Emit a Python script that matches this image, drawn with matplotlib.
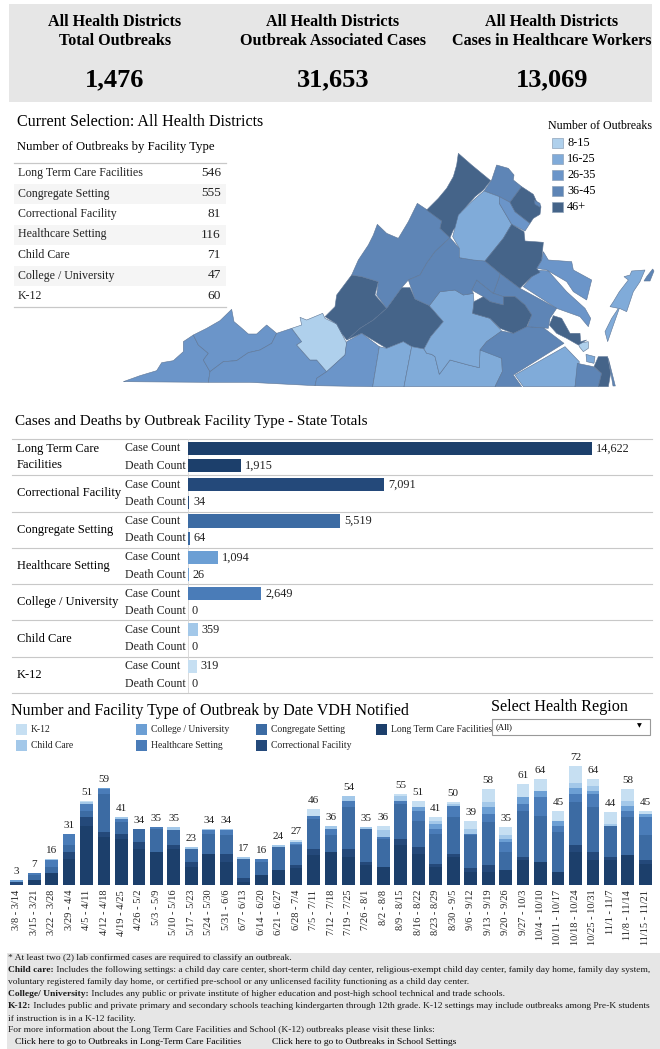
import matplotlib
matplotlib.use("Agg")
import matplotlib.pyplot as plt
from matplotlib.colors import BoundaryNorm, ListedColormap
from matplotlib.patches import Polygon, Rectangle
import numpy as np

plt.rcParams['font.family'] = ['Liberation Serif', 'DejaVu Serif']

W, H = 660, 1049

# --- data ---
kpi_titles = ["All Health Districts\nTotal Outbreaks",
              "All Health Districts\nOutbreak Associated Cases",
              "All Health Districts\nCases in Healthcare Workers"]
kpi_values = ["1,476", "31,653", "13,069"]

table_names = ["Long Term Care Facilities", "Congregate Setting", "Correctional Facility",
               "Healthcare Setting", "Child Care", "College / University", "K-12"]
table_counts = [546, 555, 81, 116, 71, 47, 60]

facility_rows = ["Long Term Care\nFacilities", "Correctional Facility", "Congregate Setting",
                 "Healthcare Setting", "College / University", "Child Care", "K-12"]
case_counts = [14622, 7091, 5519, 1094, 2649, 359, 319]
death_counts = [1915, 34, 64, 26, 0, 0, 0]
row_colours = ['#1c3f6b', '#24497a', '#3c6ba3', '#6c9fd4', '#4a7cb8', '#a3c8e9', '#c6dff2']

weeks = ["3/8 - 3/14", "3/15 - 3/21", "3/22 - 3/28", "3/29 - 4/4", "4/5 - 4/11", "4/12 - 4/18",
         "4/19 - 4/25", "4/26 - 5/2", "5/3 - 5/9", "5/10 - 5/16", "5/17 - 5/23", "5/24 - 5/30",
         "5/31 - 6/6", "6/7 - 6/13", "6/14 - 6/20", "6/21 - 6/27", "6/28 - 7/4", "7/5 - 7/11",
         "7/12 - 7/18", "7/19 - 7/25", "7/26 - 8/1", "8/2 - 8/8", "8/9 - 8/15", "8/16 - 8/22",
         "8/23 - 8/29", "8/30 - 9/5", "9/6 - 9/12", "9/13 - 9/19", "9/20 - 9/26", "9/27 - 10/3",
         "10/4 - 10/10", "10/11 - 10/17", "10/18 - 10/24", "10/25 - 10/31", "11/1 - 11/7",
         "11/8 - 11/14", "11/15 - 11/21"]
ltc = [0, 3, 7, 16, 36, 29, 28, 22, 20, 22, 11, 19, 14, 2, 6, 9, 10, 18, 20, 17, 12, 11, 24, 19,
       11, 17, 8, 8, 9, 15, 14, 8, 20, 15, 15, 18, 13]
correctional = [2, 0, 0, 4, 5, 3, 3, 4, 0, 2, 3, 0, 5, 2, 0, 0, 2, 4, 0, 5, 2, 0, 4, 4,
                2, 2, 2, 4, 0, 2, 0, 0, 4, 5, 2, 0, 2]
congregate = [0, 3, 4, 4, 4, 23, 7, 8, 14, 9, 8, 12, 11, 12, 8, 14, 12, 18, 10, 25, 20, 17, 21, 16,
              18, 22, 20, 26, 11, 28, 28, 24, 26, 27, 19, 23, 15]
healthcare = [0, 1, 4, 7, 4, 3, 2, 0, 1, 0, 0, 2, 3, 0, 2, 0, 1, 2, 4, 4, 0, 1, 2, 6,
              3, 7, 1, 5, 6, 4, 11, 4, 5, 8, 0, 4, 11]
college = [1, 0, 0, 0, 0, 1, 0, 0, 0, 0, 0, 0, 0, 0, 0, 0, 1, 0, 0, 0, 0, 0, 0, 2,
           3, 0, 0, 4, 2, 4, 4, 3, 4, 2, 0, 3, 2]
child = [0, 0, 1, 0, 1, 0, 1, 0, 0, 2, 1, 1, 1, 1, 0, 1, 0, 0, 2, 3, 1, 4, 3, 0,
         2, 1, 3, 3, 2, 0, 0, 0, 3, 3, 1, 3, 0]
k12 = [0, 0, 0, 0, 1, 0, 0, 0, 0, 0, 0, 0, 0, 0, 0, 0, 1, 4, 0, 0, 0, 3, 1, 4,
       2, 1, 5, 8, 5, 8, 7, 6, 10, 4, 7, 7, 2]
stack_names = ["Long Term Care Facilities", "Correctional Facility", "Congregate Setting",
               "Healthcare Setting", "College / University", "Child Care", "K-12"]
stack_colours = ['#1c3f6b', '#24497a', '#3c6ba3', '#4a7cb8', '#6c9fd4', '#a3c8e9', '#c6dff2']

class_labels = ["8-15", "16-25", "26-35", "36-45", "46+"]
class_bounds = [8, 16, 26, 36, 46, 200]
class_colours = ['#afd0ec', '#80abd9', '#6b95c9', '#5e85b6', '#456489']

# health district outlines, with an estimated outbreak count
district_counts = {
    'lenowisco': 30, 'cumberland': 30, 'mt_rogers': 30, 'new_river': 12, 'alleghany': 50,
    'central_va': 50, 'west_piedmont': 30, 'pittsylvania': 20, 'southside': 20, 'piedmont': 20,
    'crater': 40, 'w_tidewater': 20, 'chesapeake': 40, 'va_beach': 50, 'sandbridge': 40, 'norfolk': 20,
    'hampton': 12, 'peninsula': 50, 'eastern_shore': 20, 'shore_isle': 40, 'n_neck': 30,
    'three_rivers': 30, 'chickahominy': 40, 'henrico': 40, 'richmond': 50, 'c_shenandoah': 40,
    'blue_ridge': 40, 'lord_fairfax': 50, 'loudoun': 40, 'rappahannock_rapidan': 20,
    'prince_william': 30, 'fairfax': 50, 'arlington': 40, 'rappahannock': 50,
}
district_shapes = {
    'lenowisco': [(-650, 710), (-600, 692), (-550, 677), (-535, 653), (-500, 647), (-470, 620), (-470, 590),
                  (-440, 570), (-425, 600), (-395, 625), (-410, 645), (-390, 680), (-395, 712)],
    'cumberland': [(-440, 570), (-400, 550), (-360, 527), (-325, 493), (-318, 530), (-300, 545), (-275, 567),
                   (-250, 567), (-220, 540), (-190, 565), (-205, 595), (-240, 615), (-275, 623), (-310, 647),
                   (-350, 650), (-390, 680), (-410, 645), (-395, 625), (-425, 600)],
    'mt_rogers': [(-390, 680), (-350, 650), (-310, 647), (-275, 623), (-240, 615), (-205, 595), (-190, 565),
                  (-145, 550), (-115, 590), (-130, 600), (-90, 645), (-70, 645), (-40, 680), (-70, 700),
                  (-75, 722), (-270, 712), (-320, 712), (-395, 712)],
    'new_river': [(-145, 550), (-115, 540), (-120, 517), (-100, 525), (-52, 505), (-45, 520), (-10, 537),
                  (5, 565), (20, 595), (15, 630), (-40, 680), (-70, 645), (-90, 645), (-130, 600), (-115, 590)],
    'alleghany': [(35, 390), (65, 395), (115, 410), (105, 450), (140, 490), (100, 525), (60, 550), (40, 568),
                  (20, 585), (5, 565), (-10, 537), (-45, 515), (-15, 485), (-10, 450)],
    'central_va': [(140, 490), (185, 428), (210, 428), (225, 462), (268, 482), (310, 530), (272, 575),
                   (252, 612), (215, 605), (190, 590), (140, 610), (115, 595), (65, 565), (20, 585),
                   (40, 568), (60, 550), (100, 525)],
    'west_piedmont': [(20, 590), (65, 565), (118, 605), (98, 725), (-75, 722), (-70, 700), (-40, 680), (15, 630)],
    'pittsylvania': [(118, 605), (140, 610), (190, 590), (215, 605), (192, 725), (98, 725)],
    'southside': [(215, 605), (252, 612), (260, 625), (275, 628), (285, 635), (298, 688), (330, 645), (385, 660),
                  (418, 668), (420, 615), (450, 620), (485, 640), (487, 680), (465, 725), (192, 725)],
    'piedmont': [(252, 612), (272, 575), (310, 530), (268, 482), (300, 440), (345, 435), (370, 450), (400, 445),
                 (402, 470), (398, 505), (450, 520), (485, 558), (440, 590), (420, 615), (418, 668), (385, 660),
                 (330, 645), (298, 688), (285, 635), (275, 628), (260, 625)],
    'crater': [(440, 590), (485, 558), (520, 565), (560, 545), (610, 548), (672, 595), (520, 690), (545, 725),
               (465, 725), (487, 680), (485, 640), (420, 615)],
    'w_tidewater': [(525, 690), (675, 605), (718, 650), (705, 725), (550, 725)],
    'chesapeake': [(712, 655), (760, 665), (785, 685), (775, 725), (705, 725)],
    'va_beach': [(775, 635), (803, 635), (812, 685), (805, 725), (775, 725), (785, 685), (762, 665)],
    'sandbridge': [(805, 640), (826, 723), (819, 723)],
    'norfolk': [(738, 628), (765, 635), (762, 655), (740, 650)],
    'hampton': [(715, 595), (745, 590), (745, 610), (730, 620), (718, 605)],
    'peninsula': [(640, 512), (665, 520), (690, 565), (720, 565), (722, 590), (740, 585), (715, 600), (680, 580),
                  (650, 565), (628, 540)],
    'eastern_shore': [(915, 375), (875, 378), (870, 390), (852, 395), (865, 405), (838, 440), (820, 470), (810, 485),
                      (835, 490), (815, 520), (795, 560), (803, 590), (815, 555), (838, 490), (860, 500), (880, 440),
                      (900, 410)],
    'shore_isle': [(938, 372), (942, 378), (930, 408), (912, 408), (920, 395)],
    'n_neck': [(610, 320), (625, 345), (695, 350), (700, 375), (755, 405), (740, 465), (700, 440), (680, 410),
               (620, 375), (590, 370), (605, 345)],
    'three_rivers': [(590, 375), (625, 378), (680, 440), (735, 490), (752, 520), (745, 545), (720, 515), (650, 490),
                     (550, 425), (575, 395)],
    'chickahominy': [(480, 385), (540, 430), (650, 490), (630, 520), (625, 550), (562, 545), (575, 510), (555, 480),
                     (525, 455), (490, 455), (460, 445), (478, 395)],
    'henrico': [(410, 405), (460, 445), (490, 455), (490, 480), (450, 470), (430, 455), (395, 435)],
    'richmond': [(430, 455), (450, 470), (490, 480), (490, 455), (525, 455), (555, 480), (575, 510), (560, 545),
                 (520, 565), (480, 550), (450, 520), (398, 505), (402, 470)],
    'c_shenandoah': [(232, 175), (262, 195), (305, 228), (300, 250), (330, 278), (285, 320), (260, 355), (240, 390),
                     (205, 405), (185, 428), (140, 490), (110, 450), (115, 410), (65, 395), (35, 390), (55, 345),
                     (85, 300), (100, 270), (112, 238), (140, 265), (175, 280), (205, 230)],
    'blue_ridge': [(330, 278), (358, 310), (358, 338), (435, 348), (480, 385), (478, 395), (460, 445), (410, 405),
                   (395, 435), (400, 445), (370, 450), (345, 435), (300, 440), (268, 482), (225, 462), (205, 405),
                   (240, 390), (260, 355), (285, 320)],
    'lord_fairfax': [(355, 25), (395, 60), (452, 107), (430, 135), (405, 155), (365, 200), (355, 235), (340, 255),
                     (330, 278), (300, 250), (305, 228), (260, 195), (295, 160), (320, 130), (340, 95), (350, 60)],
    'loudoun': [(470, 60), (505, 70), (522, 90), (520, 105), (545, 125), (510, 172), (478, 155), (432, 138), (455, 105)],
    'rappahannock_rapidan': [(432, 138), (478, 155), (478, 175), (515, 238), (490, 280), (435, 348), (400, 345),
                             (358, 338), (358, 310), (338, 275), (355, 210), (395, 170)],
    'prince_william': [(478, 155), (510, 172), (525, 200), (570, 235), (555, 258), (515, 238), (478, 175)],
    'fairfax': [(510, 172), (545, 125), (580, 148), (590, 170), (603, 185), (600, 208), (580, 220), (570, 235), (525, 200)],
    'arlington': [(582, 165), (600, 175), (602, 188), (585, 178)],
    'rappahannock': [(515, 238), (552, 260), (555, 288), (610, 292), (605, 345), (590, 370), (600, 382), (575, 395),
                     (540, 430), (480, 385), (435, 348), (490, 280)],
}

notes = [
    [("* At least two (2) lab confirmed cases are required to classify an outbreak.", False)],
    [("Child care:", True), (" Includes the following settings: a child day care center, short-term child day "
      "center, religious-exempt child day center, family day home, family day system,", False)],
    [("voluntary registered family day home, or certified pre-school or any unlicensed facility "
      "functioning as a child day center.", False)],
    [("College/ University:", True), (" Includes any public or private institute of higher education and "
      "post-high school technical and trade schools.", False)],
    [("K-12:", True), (" Includes public and private primary and secondary schools teaching kindergarten "
      "through 12th grade. K-12 settings may include outbreaks among Pre-K students", False)],
    [("if instruction is in a K-12 facility.", False)],
    [("For more information about the Long Term Care Facilities and School (K-12) outbreaks please "
      "visit these links:", False)],
]


def px_axes(fig, x0, y0, x1, y1):
    return fig.add_axes([x0 / W, 1 - y1 / H, (x1 - x0) / W, (y1 - y0) / H])


fig = plt.figure(figsize=(W / 100, H / 100), dpi=100)
page = px_axes(fig, 0, 0, W, H)
page.set_xlim(0, W)
page.set_ylim(H, 0)
page.axis('off')

# kpi band
page.add_patch(Rectangle((9, 4), 643, 98, fc='#e6e6e6', ec='none'))
for cx, title, value in zip((115, 333, 552), kpi_titles, kpi_values):
    page.text(cx, 31.5, title, ha='center', va='center', fontsize=11.6, fontweight='bold', linespacing=1.3)
    page.text(cx, 80, value, ha='center', va='center', fontsize=19, fontweight='bold')

# outbreaks table
page.text(17, 122.5, "Current Selection: All Health Districts", va='center', fontsize=11.6)
page.text(17, 147, "Number of Outbreaks by Facility Type", va='center', fontsize=9.2)
row_y = np.linspace(173, 296, len(table_names))
for i, (name, count, y) in enumerate(zip(table_names, table_counts, row_y)):
    if i % 2 == 1:
        page.add_patch(Rectangle((14, y - 10), 212, 20, fc='#f5f5f5', ec='none'))
    page.text(18, y, name, va='center', fontsize=8.6, color='#222222')
    page.text(221, y, str(count), va='center', ha='right', fontsize=9.6, color='#222222')
page.plot([14, 226], [163, 163], color='#c8c8c8', lw=0.9)
page.plot([14, 226], [307, 307], color='#c8c8c8', lw=0.9)

# map legend
page.text(548, 126, "Number of Outbreaks", va='center', fontsize=8.6)
for label, colour, y in zip(class_labels, class_colours, np.linspace(143, 207, 5)):
    page.add_patch(Rectangle((552, y - 5), 11, 10, fc=colour, ec='#8fa3ba', lw=0.5))
    page.text(567, y, label, va='center', fontsize=8.8)

# map
class_cmap = ListedColormap(class_colours)
class_norm = BoundaryNorm(class_bounds, class_cmap.N)
map_ax = px_axes(fig, 110, 145, W, 395)
map_ax.set_xlim(-690, 960)
map_ax.set_ylim(750, 0)
map_ax.axis('off')
for name, outline in district_shapes.items():
    colour = class_cmap(class_norm(district_counts[name]))
    map_ax.add_patch(Polygon(outline, closed=True, fc=colour, ec='#5d7595', lw=0.4))

# cases and deaths
page.text(15, 422, "Cases and Deaths by Outbreak Facility Type - State Totals", va='center', fontsize=10.9)
bar_ax = px_axes(fig, 188, 439, 655, 693)
bar_ax.set_xlim(0, 16903)
bar_ax.set_ylim(len(facility_rows), 0)
bar_ax.axis('off')
rows = np.arange(len(facility_rows))
bar_ax.barh(rows + 0.26, case_counts, height=0.36, color=row_colours)
bar_ax.barh(rows + 0.74, death_counts, height=0.36, color=row_colours)
bar_ax.axvline(0, color='#d5d5d5', lw=0.6, zorder=0)
for i, (cases, deaths) in enumerate(zip(case_counts, death_counts)):
    bar_ax.annotate(f"{cases:,}", (cases, i + 0.26), xytext=(4, 0), textcoords='offset pixels',
                    va='center', fontsize=8.8, color='#222222')
    bar_ax.annotate(f"{deaths:,}", (deaths, i + 0.74), xytext=(4, 0), textcoords='offset pixels',
                    va='center', fontsize=8.8, color='#222222')
row_step = (693 - 439) / len(facility_rows)
for i, name in enumerate(facility_rows):
    top = 439 + i * row_step
    page.plot([12, 652], [top, top], color='#c8c8c8', lw=0.8)
    page.text(17, top + row_step / 2, name, va='center', fontsize=9.0, linespacing=1.45)
    page.text(125, top + row_step * 0.26, "Case Count", va='center', fontsize=8.6, color='#222222')
    page.text(125, top + row_step * 0.74, "Death Count", va='center', fontsize=8.6, color='#222222')
page.plot([12, 652], [693, 693], color='#c8c8c8', lw=0.8)

# stacked outbreaks by week
page.text(11, 711, "Number and Facility Type of Outbreak by Date VDH Notified", va='center', fontsize=11.5)
page.text(491, 707, "Select Health Region", va='center', fontsize=11.6)
page.add_patch(Rectangle((492, 719), 158, 16, fc='white', ec='#999999', lw=0.8))
page.text(496, 727, "(All)", va='center', fontsize=6.2)
page.text(639, 726, "\u25bc", va='center', ha='center', fontsize=4.5, family='DejaVu Sans')

legend_layout = [("K-12", 16, 729), ("Child Care", 16, 745), ("College / University", 136, 729),
                 ("Healthcare Setting", 136, 745), ("Congregate Setting", 256, 729),
                 ("Correctional Facility", 256, 745), ("Long Term Care Facilities", 376, 729)]
for name, x, y in legend_layout:
    colour = stack_colours[stack_names.index(name)]
    page.add_patch(Rectangle((x, y - 5.5), 11, 11, fc=colour, ec='none'))
    page.text(x + 15, y, name, va='center', fontsize=6.9, color='#222222')

stack_ax = px_axes(fig, 8, 750, 654, 885)
stack_ax.set_xlim(-0.5, len(weeks) - 0.5)
stack_ax.set_ylim(0, 81.7)
x = np.arange(len(weeks))
bottom = np.zeros(len(weeks))
for values, colour in zip((ltc, correctional, congregate, healthcare, college, child, k12), stack_colours):
    stack_ax.bar(x, values, width=0.73, bottom=bottom, color=colour)
    bottom += np.array(values)
for xi, total in zip(x, bottom):
    stack_ax.annotate(f"{int(total)}", (xi, total), xytext=(0, 4), textcoords='offset pixels',
                      ha='center', va='bottom', fontsize=8.0, color='#222222')
stack_ax.set_xticks(x)
stack_ax.set_xticklabels(weeks, rotation=90, fontsize=7.5, color='#222222')
stack_ax.tick_params(axis='x', length=0, pad=3.5)
stack_ax.set_yticks([])
for side in ('top', 'left', 'right', 'bottom'):
    stack_ax.spines[side].set_visible(False)
stack_ax.patch.set_alpha(0)

# footnotes
page.add_patch(Rectangle((7, 953), 653, 96, fc='#e6e6e6', ec='none'))
fig.canvas.draw()
renderer = fig.canvas.get_renderer()
note_y = [958, 970, 982, 994, 1006, 1019, 1030]
for line, y in zip(notes, note_y):
    cursor = 8.0
    for chunk, bold in line:
        t = page.text(cursor, y, chunk, va='center', fontsize=6.8, color='#1a1a1a',
                      fontweight='bold' if bold else 'normal')
        box = t.get_window_extent(renderer)
        cursor += box.width
page.text(15, 1042, "Click here to go to Outbreaks in Long-Term Care Facilities", va='center', fontsize=6.8)
page.text(272, 1042, "Click here to go to Outbreaks in School Settings", va='center', fontsize=6.8)

fig.savefig("out.png", dpi=100)
